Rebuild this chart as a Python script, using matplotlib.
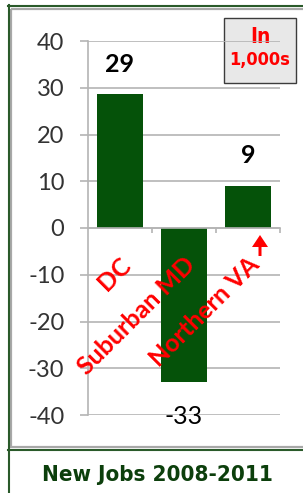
import matplotlib
matplotlib.use("Agg")
import matplotlib.pyplot as plt
from matplotlib.patches import Rectangle
from matplotlib.lines import Line2D

# values in 1,000s
regions = ["DC", "Suburban MD", "Northern VA"]
new_jobs = [28.6, -32.9, 9.0]
y_ticks = [-40, -30, -20, -10, 0, 10, 20, 30, 40]

W, H = 303, 493
BAR_GREEN = "#055209"
GRID_GRAY = "#b4b4b4"
FRAME_GREEN = "#2a5a2a"
TITLE_GREEN = "#0c3f0c"

fig = plt.figure(figsize=(W / 100, H / 100), dpi=100)

# overlay in pixel coordinates for the frame decorations
deco = fig.add_axes([0, 0, 1, 1])
deco.set_xlim(0, W)
deco.set_ylim(H, 0)
deco.axis("off")

deco.add_patch(Rectangle((11, 9), 320, 438, facecolor="none",
                         edgecolor="#a8a8a8", lw=1.6))
deco.add_line(Line2D([8.5, 8.5], [5, H], color=FRAME_GREEN, lw=1.5))
deco.add_line(Line2D([8, W], [5.5, 5.5], color=FRAME_GREEN, lw=1.5))
deco.add_line(Line2D([8, W], [450, 450], color=FRAME_GREEN, lw=1.5))

narrow = dict(family=["DejaVu Sans"], stretch="condensed", fontweight="bold")

# "In 1,000s" note
deco.add_patch(Rectangle((224, 18), 72, 65, facecolor="#e8e8e8",
                         edgecolor="#3c3c3c", lw=1.0))
deco.text(260, 37, "In", ha="center", va="center", color="red",
          fontsize=15, **narrow)
deco.text(260, 60, "1,000s", ha="center", va="center", color="red",
          fontsize=13, **narrow)

# red arrow under Northern VA
deco.arrow(260, 256, 0, -21, width=3, head_width=16, head_length=12,
           length_includes_head=True, color="red", lw=0)

# title
deco.text(157, 475, "New Jobs 2008-2011", ha="center", va="center",
          color=TITLE_GREEN, fontsize=16, **narrow)

# main chart
ax = fig.add_axes([88 / W, (H - 415) / H, 192 / W, 374 / H])
ax.patch.set_alpha(0)
x = list(range(len(regions)))
ax.bar(x, new_jobs, width=0.72, color=BAR_GREEN, zorder=3)

ax.set_xlim(-0.5, 2.5)
ax.set_ylim(-40, 40)
ax.set_yticks(y_ticks)
ax.set_yticklabels([str(t) for t in y_ticks], family=["Lato", "DejaVu Sans"],
                   fontsize=17, color="#333333")
ax.grid(axis="y", color=GRID_GRAY, lw=1.2, zorder=0)
ax.tick_params(axis="y", direction="out", length=6, width=1.2,
               color=GRID_GRAY, pad=11)

for s in ["top", "right"]:
    ax.spines[s].set_visible(False)
ax.spines["left"].set_color(GRID_GRAY)
ax.spines["left"].set_linewidth(1.2)
ax.spines["bottom"].set_position(("data", 0))
ax.spines["bottom"].set_color(GRID_GRAY)
ax.spines["bottom"].set_linewidth(1.2)
ax.spines["bottom"].set_zorder(4)

ax.set_xticks([0.5, 1.5, 2.5])
ax.set_xticklabels([])
ax.tick_params(axis="x", direction="out", length=3.5, width=1.2,
               color=GRID_GRAY)

for i, (name, v) in enumerate(zip(regions, new_jobs)):
    # category label, rotated
    ax.annotate(name, xy=(i, 0), xytext=(-1, -25), textcoords="offset pixels",
                ha="right", va="top", rotation=45, rotation_mode="anchor",
                color="red", fontsize=18, fontweight="bold",
                family=["Lato", "DejaVu Sans"], zorder=5)
    # value label
    off = 30 if v > 0 else -35
    ax.annotate(f"{v:.0f}", xy=(i, v), xytext=(0, off),
                textcoords="offset pixels", ha="center", va="center",
                color="black", fontsize=18,
                fontweight="bold" if v > 0 else "normal",
                family=["Lato", "DejaVu Sans"], zorder=5)

fig.savefig("out.png", dpi=100)
